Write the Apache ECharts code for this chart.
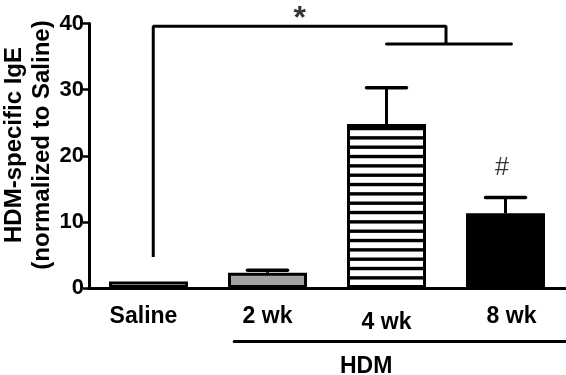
<!DOCTYPE html>
<html>
<head>
<meta charset="utf-8">
<script src="https://cdn.jsdelivr.net/npm/echarts@6/dist/echarts.min.js"></script>
<style>html,body{margin:0;padding:0;background:#fff;}#c{width:566px;height:375px;}</style>
</head>
<body>
<div id="c"></div>
<script>
// ---- data ----
var categories = ['Saline', '2 wk', '4 wk', '8 wk'];
var means = [1.0, 2.3, 24.8, 11.3];
var errors = [0, 0.4, 5.5, 2.4];
var yTicks = [0, 10, 20, 30, 40];
// significance brackets (x in category units, y in axis units)
var bracketMain = [[0.04, 4.7], [0.04, 39.6], [2.5, 39.6], [2.5, 36.9]];
var bracketSub = [[2.0, 36.9], [3.05, 36.9]];
var starMark = [[1.27, 40.6]];
var hashMark = [[2.97, 18.1]];
var hdmLine = [[0.72, -8.1], [3.52, -8.1]];

var FONT = '"Liberation Sans", Arial, sans-serif';

// stripe pattern for 4 wk bar
var pc = document.createElement('canvas');
pc.width = 8; pc.height = 28;
var pctx = pc.getContext('2d');
pctx.fillStyle = '#fff'; pctx.fillRect(0, 0, 8, 28);
pctx.fillStyle = '#000';
for (var k = 0; k < 3; k++) { pctx.fillRect(0, k * 9.333 + 5.5, 8, 3.4); }

var fills = ['#ffffff', '#a3a3a3', {image: pc, repeat: 'repeat'}, '#000000'];

var chart = echarts.init(document.getElementById('c'), null, {renderer: 'canvas'});

var barData = means.map(function (v, i) {
  return {value: v, itemStyle: {color: fills[i], borderColor: '#000', borderWidth: 3}};
});
var errData = means.map(function (v, i) { return [i, v, v + errors[i]]; });

var lineStyleBlack = {color: '#000', width: 3};

chart.setOption({
  animation: false,
  backgroundColor: '#fff',
  grid: {left: 89, right: 1, top: 23.5, bottom: 87, containLabel: false},
  xAxis: [{
    type: 'category',
    data: categories,
    axisLine: {lineStyle: {color: '#000', width: 3}},
    axisTick: {alignWithLabel: true, length: 5, lineStyle: {color: '#000', width: 2.5}},
    axisLabel: {
      interval: 0,
      margin: 17,
      color: '#000',
      fontFamily: FONT,
      fontWeight: 'bold',
      fontSize: 23,
      formatter: function (v, i) { return '{c' + i + '|' + v + '}'; },
      rich: {
        c0: {fontFamily: FONT, fontWeight: 'bold', fontSize: 23, color: '#000', padding: [0, 10, 0, 0]},
        c1: {fontFamily: FONT, fontWeight: 'bold', fontSize: 23, color: '#000'},
        c2: {fontFamily: FONT, fontWeight: 'bold', fontSize: 23, color: '#000', padding: [6, 0, 0, 0]},
        c3: {fontFamily: FONT, fontWeight: 'bold', fontSize: 23, color: '#000', padding: [0, 0, 0, 12]}
      }
    }
  }, {
    type: 'value', min: -0.5, max: 3.5, show: false
  }],
  yAxis: {
    type: 'value', min: 0, max: 40, interval: 10,
    splitLine: {show: false},
    axisLine: {show: true, onZero: false, lineStyle: {color: '#000', width: 3}},
    axisTick: {show: true, length: 6, lineStyle: {color: '#000', width: 2.5}},
    axisLabel: {
      margin: 5, color: '#000', fontFamily: FONT, fontWeight: 'bold', fontSize: 22,
      formatter: function (v) { return yTicks.indexOf(v) >= 0 ? String(v) : ''; }
    }
  },
  graphic: [{
    type: 'text',
    x: 28, y: 145,
    rotation: Math.PI / 2,
    style: {
      text: 'HDM-specific IgE\n(normalized to Saline)',
      font: 'bold 24px ' + FONT,
      fill: '#000',
      align: 'center',
      verticalAlign: 'middle',
      lineHeight: 28
    }
  }, {
    type: 'text',
    left: 340, top: 355,
    style: {text: 'HDM', font: 'bold 23px ' + FONT, fill: '#000'}
  }],
  series: [{
    type: 'bar',
    xAxisIndex: 0,
    barWidth: 79,
    data: barData,
    z: 2
  }, {
    type: 'custom',
    xAxisIndex: 0,
    data: errData,
    z: 3,
    renderItem: function (params, api) {
      if (api.value(2) <= api.value(1)) return null;
      var b = api.coord([api.value(0), api.value(1)]);
      var t = api.coord([api.value(0), api.value(2)]);
      var hw = 20;
      return {
        type: 'group',
        children: [{
          type: 'line', shape: {x1: b[0], y1: b[1], x2: t[0], y2: t[1]},
          style: {stroke: '#000', lineWidth: 3}
        }, {
          type: 'line', shape: {x1: t[0] - hw, y1: t[1], x2: t[0] + hw, y2: t[1]},
          style: {stroke: '#000', lineWidth: 3.5, lineCap: 'round'}
        }]
      };
    }
  }, {
    type: 'line', xAxisIndex: 1, data: bracketMain, symbol: 'none',
    lineStyle: lineStyleBlack, clip: false, z: 4
  }, {
    type: 'line', xAxisIndex: 1, data: bracketSub, symbol: 'none',
    lineStyle: {color: '#000', width: 3, cap: 'round'}, clip: false, z: 4
  }, {
    type: 'line', xAxisIndex: 1, data: hdmLine, symbol: 'none',
    lineStyle: {color: '#000', width: 3, cap: 'round'}, clip: false, z: 4
  }, {
    type: 'scatter', xAxisIndex: 1, data: starMark, symbolSize: 0, clip: false,
    label: {show: true, position: 'inside', formatter: '*', color: '#000',
      fontFamily: FONT, fontWeight: 'bold', fontSize: 32}
  }, {
    type: 'scatter', xAxisIndex: 1, data: hashMark, symbolSize: 0, clip: false,
    label: {show: true, position: 'inside', formatter: '#', color: '#000',
      fontFamily: FONT, fontWeight: 'normal', fontSize: 25}
  }]
});
</script>
</body>
</html>
